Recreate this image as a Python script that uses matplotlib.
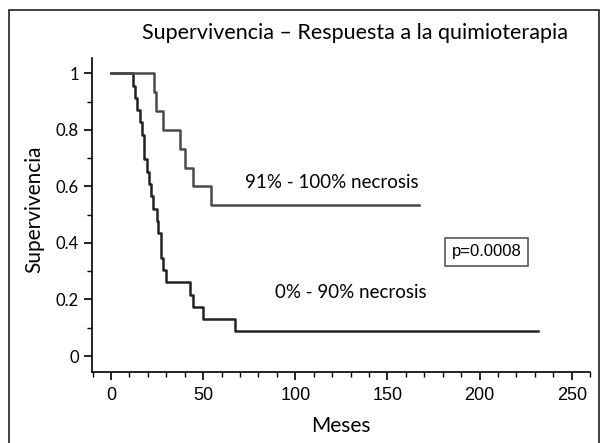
import matplotlib.pyplot as plt
from matplotlib.patches import Rectangle
from matplotlib.ticker import MultipleLocator

# Grupo 91% - 100% necrosis (n=15)
t_alta = [0, 23.5, 24.3, 28.1, 37.5, 40.2, 44.7, 54.3, 167]
s_alta = [1.0, 14/15, 13/15, 12/15, 11/15, 10/15, 9/15, 8/15, 8/15]

# Grupo 0% - 90% necrosis (n=23)
t_baja = [0, 12.1, 13.0, 14.0, 15.8, 17.0, 18.1, 19.4, 20.9, 21.7, 22.6,
          24.8, 25.7, 27.0, 28.4, 29.9, 42.9, 44.7, 50.2, 67.4, 231.5]
n_baja = [23, 22, 21, 20, 19, 18, 16, 15, 14, 13, 12,
          11, 10, 8, 7, 6, 5, 4, 3, 2, 2]
s_baja = [n / 23 for n in n_baja]

x_ticks = [0, 50, 100, 150, 200, 250]
y_ticks = [0, 0.2, 0.4, 0.6, 0.8, 1]
y_labels = ["0", "0.2", "0.4", "0.6", "0.8", "1"]

fig = plt.figure(figsize=(6.01, 4.43), dpi=100)
ax = fig.add_axes([0.153, 0.160, 0.829, 0.709])

ax.step(t_baja, s_baja, where="post", color="#222222", lw=1.8)
ax.step(t_alta, s_alta, where="post", color="#4a4a4a", lw=1.8)

ax.set_xlim(-10.3, 260)
ax.set_ylim(-0.057, 1.054)

ax.spines["top"].set_visible(False)
ax.spines["right"].set_visible(False)
ax.spines["left"].set_linewidth(1.2)
ax.spines["bottom"].set_linewidth(1.2)

ax.set_xticks(x_ticks)
ax.set_yticks(y_ticks)
ax.set_yticklabels(y_labels)
ax.xaxis.set_minor_locator(MultipleLocator(10))
ax.yaxis.set_minor_locator(MultipleLocator(0.1))
ax.tick_params(which="major", direction="out", length=6, width=1.2)
ax.tick_params(which="minor", direction="out", length=3.5, width=1.0)
ax.tick_params(axis="x", pad=5)
for lbl in ax.get_xticklabels():
    lbl.set_family("Liberation Sans")
    lbl.set_fontsize(13)
for lbl in ax.get_yticklabels():
    lbl.set_family("Lato")
    lbl.set_fontsize(12)

ax.set_xlabel("Meses", family="Lato", fontsize=15, labelpad=8)
ax.set_ylabel("Supervivencia", family="Lato", fontsize=15)
ax.yaxis.set_label_coords(-0.095, 0.52)

fig.text(0.59, 0.925, "Supervivencia \u2013 Respuesta a la quimioterapia",
         family="Lato", fontsize=15.5, ha="center", va="center")

ax.text(120, 0.612, "91% - 100% necrosis", family="Lato", fontsize=13.5,
        ha="center", va="center")
ax.text(130, 0.223, "0% - 90% necrosis", family="Lato", fontsize=13.5,
        ha="center", va="center")
ax.text(203.8, 0.368, "p=0.0008", family="Liberation Sans", fontsize=12,
        ha="center", va="center",
        bbox=dict(boxstyle="square,pad=0.4", fc="white", ec="#555555", lw=1.2))

# marco exterior
fig.patches.append(Rectangle((9 / 601, -0.05), 590 / 601, 1 - 10 / 443 + 0.05,
                             transform=fig.transFigure, fill=False,
                             ec="#222222", lw=1.2))

fig.savefig("out.png", dpi=100)
